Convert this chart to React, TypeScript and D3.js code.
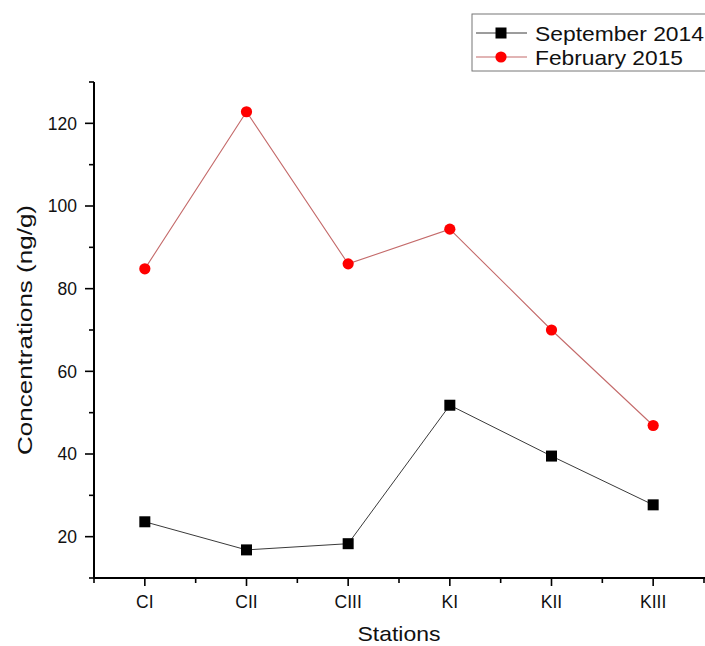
import * as d3 from 'd3';

const stations = ['CI', 'CII', 'CIII', 'KI', 'KII', 'KIII'];
const sept2014 = [23.6, 16.8, 18.3, 51.8, 39.5, 27.7];
const feb2015 = [84.8, 122.8, 86.0, 94.4, 70.0, 46.9];
const yMajorTicks = [20, 40, 60, 80, 100, 120];
const yMinorTicks = [10, 30, 50, 70, 90, 110, 130];

const W = 705;
const H = 646;
const left = 94;
const right = 704;
const top = 82;
const bottom = 578;
const font = '"Liberation Sans", Arial, sans-serif';

export default function App() {
  const x = d3.scaleLinear().domain([0.5, 6.5]).range([left, right]);
  const y = d3.scaleLinear().domain([10, 130]).range([bottom, top]);

  const line = d3
    .line<number>()
    .x((_, i) => x(i + 1))
    .y((d) => y(d));

  const xMinor = d3.range(0.5, 7, 1);

  return (
    <svg
      width={W}
      height={H}
      style={{ position: 'absolute', left: 0, top: 0, background: '#fff' }}
      fontFamily={font}
    >
      {/* lines */}
      <path d={line(sept2014) || ''} fill="none" stroke="#3a3a3a" strokeWidth={1} />
      <path d={line(feb2015) || ''} fill="none" stroke="#c46a6a" strokeWidth={1.1} />

      {/* markers */}
      {sept2014.map((v, i) => (
        <rect
          key={'s' + i}
          x={x(i + 1) - 5.5}
          y={y(v) - 5.5}
          width={11}
          height={11}
          fill="#000"
        />
      ))}
      {feb2015.map((v, i) => (
        <circle key={'f' + i} cx={x(i + 1)} cy={y(v)} r={5.6} fill="#f00" />
      ))}

      {/* y axis */}
      <line x1={left} x2={left} y1={top} y2={bottom} stroke="#000" strokeWidth={2} />
      {yMajorTicks.map((t) => (
        <g key={'ym' + t}>
          <line x1={left - 9} x2={left} y1={y(t)} y2={y(t)} stroke="#000" strokeWidth={1.6} />
          <text
            x={left - 17}
            y={y(t)}
            dy="0.36em"
            textAnchor="end"
            fontSize={17.5}
            fill="#111"
          >
            {t}
          </text>
        </g>
      ))}
      {yMinorTicks.map((t) => (
        <line key={'yn' + t} x1={left - 5} x2={left} y1={y(t)} y2={y(t)} stroke="#000" strokeWidth={1.6} />
      ))}

      {/* x axis */}
      <line x1={left - 1} x2={W} y1={bottom} y2={bottom} stroke="#000" strokeWidth={2} />
      {stations.map((s, i) => (
        <g key={'xm' + s}>
          <line x1={x(i + 1)} x2={x(i + 1)} y1={bottom} y2={bottom + 8} stroke="#000" strokeWidth={1.6} />
          <text
            x={x(i + 1)}
            y={bottom + 24}
            dy="0.36em"
            textAnchor="middle"
            fontSize={17.5}
            fill="#111"
          >
            {s}
          </text>
        </g>
      ))}
      {xMinor.map((t) => (
        <line key={'xn' + t} x1={x(t)} x2={x(t)} y1={bottom} y2={bottom + 5} stroke="#000" strokeWidth={1.6} />
      ))}

      {/* axis titles */}
      <text
        x={(left + right) / 2}
        y={633}
        dy="0.36em"
        textAnchor="middle"
        fontSize={21}
        textLength={83}
        lengthAdjust="spacingAndGlyphs"
        fill="#111"
      >
        Stations
      </text>
      <text
        transform={`translate(24, ${(top + bottom) / 2}) rotate(-90)`}
        dy="0.36em"
        textAnchor="middle"
        fontSize={21}
        textLength={250}
        lengthAdjust="spacingAndGlyphs"
        fill="#111"
      >
        Concentrations (ng/g)
      </text>

      {/* legend */}
      <rect x={472} y={14} width={W} height={57} fill="#fff" stroke="#777" strokeWidth={1} />
      <line x1={476} x2={527} y1={33} y2={33} stroke="#3a3a3a" strokeWidth={1} />
      <rect x={501 - 5.5} y={33 - 5.5} width={11} height={11} fill="#000" />
      <text
        x={535}
        y={33}
        dy="0.36em"
        fontSize={21}
        textLength={169}
        lengthAdjust="spacingAndGlyphs"
        fill="#111"
      >
        September 2014
      </text>
      <line x1={476} x2={527} y1={57} y2={57} stroke="#c46a6a" strokeWidth={1.1} />
      <circle cx={501} cy={57} r={5.6} fill="#f00" />
      <text
        x={535}
        y={57}
        dy="0.36em"
        fontSize={21}
        textLength={148}
        lengthAdjust="spacingAndGlyphs"
        fill="#111"
      >
        February 2015
      </text>
    </svg>
  );
}
